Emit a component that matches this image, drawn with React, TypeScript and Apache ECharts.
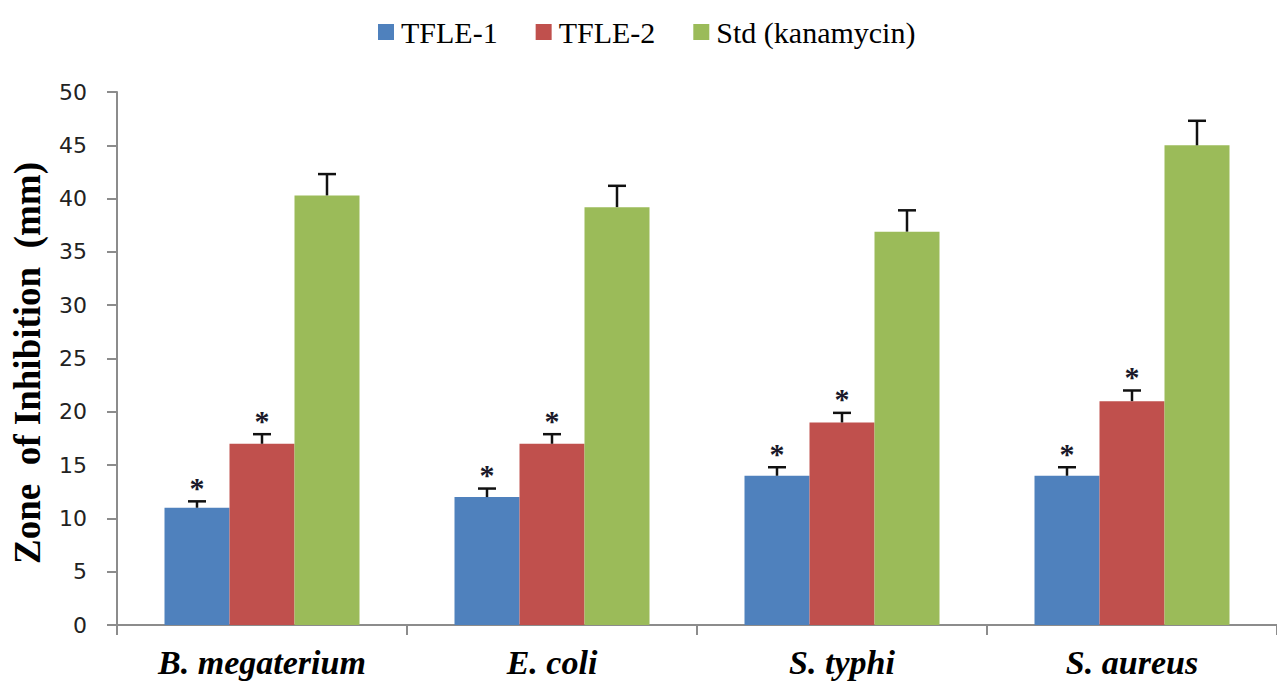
import React, { useEffect, useRef } from "react";
import * as echarts from "echarts";

const categories = ["B. megaterium", "E. coli", "S. typhi", "S. aureus"];
const seriesNames = ["TFLE-1", "TFLE-2", "Std (kanamycin)"];
const tfle1 = [11, 12, 14, 14];
const tfle1Err = [0.6, 0.8, 0.8, 0.8];
const tfle2 = [17, 17, 19, 21];
const tfle2Err = [0.9, 0.9, 0.9, 1.0];
const stdK = [40.3, 39.2, 36.9, 45.0];
const stdKErr = [2.0, 2.0, 2.0, 2.3];
const significant = [true, true, false];
const colors = ["#4F81BD", "#C0504D", "#9BBB59"];
const yTicks = { min: 0, max: 50, interval: 5 };

const BAR_W = 65;
const SERIF = '"Liberation Serif", "Times New Roman", serif';

export default function App() {
  const ref = useRef<HTMLDivElement>(null);
  useEffect(() => {
    if (!ref.current) return;
    const chart = echarts.init(ref.current, undefined, { renderer: "svg" });
    const means = [tfle1, tfle2, stdK];
    const errs = [tfle1Err, tfle2Err, stdKErr];

    const barSeries = means.map((vals, k) => ({
      name: seriesNames[k],
      type: "bar",
      data: vals,
      barWidth: BAR_W,
      barGap: "0%",
      itemStyle: { color: colors[k] },
      z: 2,
    }));

    const errSeries = means.map((vals, k) => ({
      name: "err-" + k,
      type: "custom",
      data: vals.map((v, i) => [i, v, errs[k][i]]),
      encode: { x: 0, y: 1 },
      z: 5,
      renderItem: (params: any, api: any) => {
        const ci = api.value(0);
        const m = api.value(1);
        const e = api.value(2);
        const base = api.coord([ci, m]);
        const top = api.coord([ci, m + e]);
        const x = base[0] + (k - 1) * BAR_W;
        const children: any[] = [
          {
            type: "line",
            shape: { x1: x, y1: base[1], x2: x, y2: top[1] },
            style: { stroke: "#111", lineWidth: 2.5 },
          },
          {
            type: "line",
            shape: { x1: x - 9, y1: top[1], x2: x + 9, y2: top[1] },
            style: { stroke: "#111", lineWidth: 2.5 },
          },
        ];
        if (significant[k]) {
          children.push({
            type: "text",
            x: x,
            y: top[1] + 1,
            style: {
              text: "*",
              font: 'bold 30px "Liberation Serif"',
              fill: "#1a1a2a",
              textAlign: "center",
              textVerticalAlign: "bottom",
            },
          });
        }
        return { type: "group", children };
      },
    }));

    chart.setOption({
      animation: false,
      legend: {
        data: seriesNames,
        left: 373,
        top: 12,
        icon: "rect",
        itemWidth: 16,
        itemHeight: 16,
        itemGap: 38,
        textStyle: {
          fontFamily: SERIF,
          fontSize: 30,
          color: "#000",
          padding: [0, 0, 0, 2],
        },
      },
      grid: { left: 117, top: 92, width: 1166, height: 533, containLabel: false },
      xAxis: {
        type: "category",
        data: categories,
        axisLine: { lineStyle: { color: "#8c8c8c", width: 2 } },
        axisTick: { show: true, length: 10, lineStyle: { color: "#8c8c8c", width: 2 } },
        axisLabel: {
          margin: 20,
          fontFamily: SERIF,
          fontSize: 34,
          fontWeight: "bold",
          fontStyle: "italic",
          color: "#000",
        },
      },
      yAxis: {
        type: "value",
        min: yTicks.min,
        max: yTicks.max,
        interval: yTicks.interval,
        splitLine: { show: false },
        axisLine: { show: true, lineStyle: { color: "#8c8c8c", width: 2 } },
        axisTick: { show: true, length: 10, lineStyle: { color: "#8c8c8c", width: 2 } },
        axisLabel: {
          margin: 30,
          fontFamily: "DejaVu Sans",
          fontSize: 22,
          color: "#222",
        },
      },
      graphic: [
        {
          type: "text",
          x: 27,
          y: 363,
          rotation: Math.PI / 2,
          style: {
            text: "Zone  of Inhibition  (mm)",
            font: 'bold 37px "Liberation Serif"',
            fill: "#000",
            textAlign: "center",
            textVerticalAlign: "middle",
          },
        },
      ],
      series: [...barSeries, ...errSeries],
    });
    return () => chart.dispose();
  }, []);
  return (
    <div
      ref={ref}
      style={{ position: "absolute", left: 0, top: 0, width: 1277, height: 682 }}
    />
  );
}
